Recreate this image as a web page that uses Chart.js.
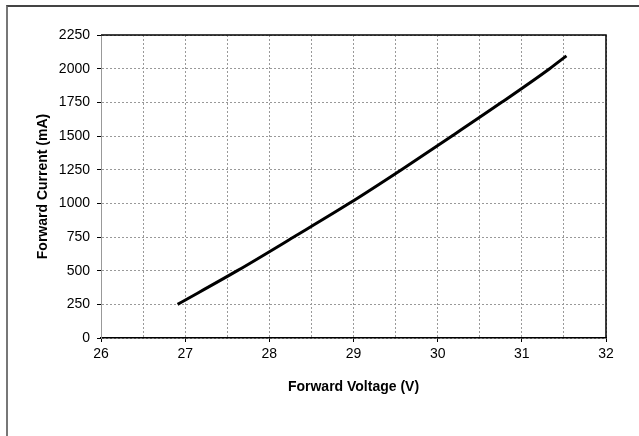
<!DOCTYPE html>
<html>
<head>
<meta charset="utf-8">
<script src="https://cdn.jsdelivr.net/npm/chart.js@4"></script>
<style>
  html, body { margin: 0; padding: 0; background: #fff; }
  #wrap { position: relative; width: 639px; height: 436px; overflow: hidden; }
  #frame { position: absolute; left: 6px; top: 5px; width: 700px; height: 500px;
           border-left: 2px solid #777; border-top: 2px solid #444; }
  canvas { position: absolute; left: 0; top: 0; }
</style>
</head>
<body>
<div id="wrap">
  <div id="frame"></div>
  <canvas id="ivChart" width="639" height="436"></canvas>
</div>
<script>
// forward voltage (V) vs forward current (mA)
const voltage = [26.91, 27.62, 28.29, 28.95, 29.57, 30.17, 30.76, 31.33, 31.53];
const current = [250, 500, 750, 1000, 1250, 1500, 1750, 2000, 2095];

const xMin = 26, xMax = 32, xStep = 0.5;
const yMin = 0, yMax = 2250, yStep = 250;

const points = voltage.map((v, i) => ({ x: v, y: current[i] }));

// top and right edges of the plot box
const plotBox = {
  id: 'plotBox',
  afterDraw(chart) {
    const { ctx, chartArea: a } = chart;
    ctx.save();
    ctx.strokeStyle = '#000';
    ctx.lineWidth = 1.5;
    ctx.beginPath();
    ctx.moveTo(a.left, a.top);
    ctx.lineTo(a.right, a.top);
    ctx.lineTo(a.right, a.bottom);
    ctx.stroke();
    ctx.restore();
  }
};

Chart.defaults.font.family = '"Liberation Sans", Arial, sans-serif';
Chart.defaults.color = '#000';

new Chart(document.getElementById('ivChart'), {
  type: 'scatter',
  data: {
    datasets: [{
      data: points, showLine: true, borderColor: '#000', borderWidth: 3,
      pointRadius: 0, cubicInterpolationMode: 'monotone', fill: false
    }]
  },
  options: {
    responsive: false, animation: false,
    layout: { padding: { left: 0, top: 35, right: 33, bottom: 0 } },
    plugins: { legend: { display: false }, tooltip: { enabled: false } },
    scales: {
      x: {
        type: 'linear', min: xMin, max: xMax,
        afterFit(s) { s.height = 98; },
        ticks: {
          stepSize: xStep, font: { size: 14 }, padding: 4, maxRotation: 0,
          callback: v => Number.isInteger(v) ? String(v) : ''
        },
        grid: {
          color: '#999', tickLength: 4, drawTicks: true,
          tickColor: c => Number.isInteger(c.tick && c.tick.value) ? '#000' : 'rgba(0,0,0,0)'
        },
        border: { color: '#000', width: 1.5, dash: [2, 2] },
        title: { display: true, text: 'Forward Voltage (V)', font: { size: 14, weight: 'bold' },
                 padding: { top: 0, bottom: 40 } }
      },
      y: {
        type: 'linear', min: yMin, max: yMax,
        afterFit(s) { s.width = 101; },
        ticks: { stepSize: yStep, font: { size: 14 }, padding: 7, callback: v => String(v) },
        grid: { color: '#999', tickLength: 4, tickColor: '#000' },
        border: { color: '#999', width: 1, dash: [2, 2] },
        title: { display: true, text: 'Forward Current (mA)', font: { size: 14, weight: 'bold' },
                 padding: { top: 35, bottom: 0 } }
      }
    }
  },
  plugins: [plotBox]
});
</script>
</body>
</html>
